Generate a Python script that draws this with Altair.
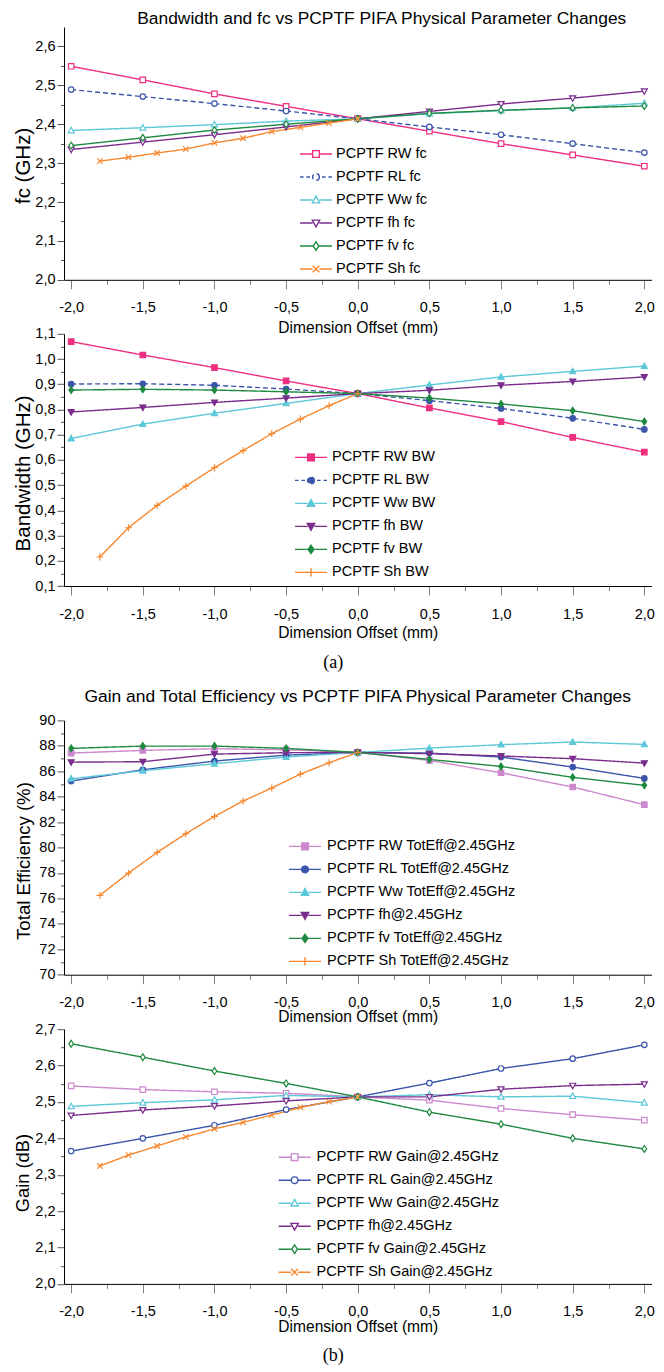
import altair as alt
import pandas as pd

# ---------------- data ----------------
offsets = [-2.0, -1.5, -1.0, -0.5, 0.0, 0.5, 1.0, 1.5, 2.0]
offsets_sh = [-1.8, -1.6, -1.4, -1.2, -1.0, -0.8, -0.6, -0.4, -0.2, 0.0]

fc_names = ["PCPTF RW fc", "PCPTF RL fc", "PCPTF Ww fc", "PCPTF fh fc", "PCPTF fv fc", "PCPTF Sh fc"]
fc_rw = [2.549, 2.514, 2.478, 2.446, 2.414, 2.382, 2.350, 2.321, 2.292]
fc_rl = [2.489, 2.471, 2.453, 2.434, 2.414, 2.393, 2.373, 2.350, 2.327]
fc_ww = [2.384, 2.391, 2.399, 2.408, 2.414, 2.427, 2.435, 2.442, 2.454]
fc_fh = [2.335, 2.354, 2.373, 2.393, 2.414, 2.433, 2.452, 2.467, 2.485]
fc_fv = [2.345, 2.365, 2.385, 2.400, 2.414, 2.428, 2.436, 2.442, 2.447]
fc_sh = [2.305, 2.315, 2.326, 2.336, 2.352, 2.364, 2.381, 2.392, 2.403, 2.414]

bw_names = ["PCPTF RW BW", "PCPTF RL BW", "PCPTF Ww BW", "PCPTF fh BW", "PCPTF fv BW", "PCPTF Sh BW"]
bw_rw = [1.069, 1.016, 0.966, 0.913, 0.863, 0.806, 0.752, 0.689, 0.631]
bw_rl = [0.901, 0.902, 0.896, 0.881, 0.863, 0.835, 0.804, 0.765, 0.721]
bw_ww = [0.685, 0.742, 0.785, 0.824, 0.863, 0.897, 0.929, 0.951, 0.972]
bw_fh = [0.790, 0.808, 0.828, 0.845, 0.863, 0.876, 0.896, 0.911, 0.929]
bw_fv = [0.877, 0.880, 0.877, 0.870, 0.863, 0.845, 0.822, 0.795, 0.752]
bw_sh = [0.215, 0.331, 0.420, 0.496, 0.569, 0.637, 0.704, 0.762, 0.815, 0.863]

eff_names = ["PCPTF RW TotEff@2.45GHz", "PCPTF RL TotEff@2.45GHz", "PCPTF Ww TotEff@2.45GHz",
             "PCPTF fh@2.45GHz", "PCPTF fv TotEff@2.45GHz", "PCPTF Sh TotEff@2.45GHz"]
eff_rw = [87.43, 87.64, 87.77, 87.69, 87.48, 86.85, 85.88, 84.76, 83.37]
eff_rl = [85.23, 86.12, 86.80, 87.27, 87.48, 87.43, 87.12, 86.33, 85.44]
eff_ww = [85.41, 86.04, 86.59, 87.12, 87.48, 87.82, 88.09, 88.30, 88.11]
eff_fh = [86.72, 86.75, 87.35, 87.46, 87.48, 87.38, 87.20, 86.99, 86.64]
eff_fv = [87.80, 87.98, 87.98, 87.80, 87.48, 86.93, 86.38, 85.52, 84.89]
eff_sh = [76.24, 77.99, 79.62, 81.09, 82.45, 83.66, 84.68, 85.78, 86.67, 87.48]

gain_names = ["PCPTF RW Gain@2.45GHz", "PCPTF RL Gain@2.45GHz", "PCPTF Ww Gain@2.45GHz",
              "PCPTF fh@2.45GHz", "PCPTF fv Gain@2.45GHz", "PCPTF Sh Gain@2.45GHz"]
gain_rw = [2.544, 2.534, 2.528, 2.524, 2.514, 2.505, 2.482, 2.465, 2.450]
gain_rl = [2.365, 2.400, 2.436, 2.479, 2.514, 2.552, 2.592, 2.619, 2.657]
gain_ww = [2.488, 2.498, 2.506, 2.518, 2.514, 2.520, 2.514, 2.516, 2.498]
gain_fh = [2.463, 2.478, 2.489, 2.503, 2.514, 2.514, 2.535, 2.545, 2.549]
gain_fv = [2.660, 2.623, 2.585, 2.551, 2.514, 2.472, 2.439, 2.400, 2.371]
gain_sh = [2.324, 2.354, 2.379, 2.404, 2.426, 2.444, 2.464, 2.485, 2.501, 2.514]

# tick values
x_ticks = [-2.0, -1.5, -1.0, -0.5, 0.0, 0.5, 1.0, 1.5, 2.0]
x_minor = [-1.75, -1.25, -0.75, -0.25, 0.25, 0.75, 1.25, 1.75]
fc_ticks = [2.0, 2.1, 2.2, 2.3, 2.4, 2.5, 2.6]
fc_minor = [2.05, 2.15, 2.25, 2.35, 2.45, 2.55]
bw_ticks = [0.1, 0.2, 0.3, 0.4, 0.5, 0.6, 0.7, 0.8, 0.9, 1.0, 1.1]
bw_minor = [0.15, 0.25, 0.35, 0.45, 0.55, 0.65, 0.75, 0.85, 0.95, 1.05]
eff_ticks = [70, 72, 74, 76, 78, 80, 82, 84, 86, 88, 90]
eff_minor = [71, 73, 75, 77, 79, 81, 83, 85, 87, 89]
gain_ticks = [2.0, 2.1, 2.2, 2.3, 2.4, 2.5, 2.6, 2.7]
gain_minor = [2.05, 2.15, 2.25, 2.35, 2.45, 2.55, 2.65]

# ---------------- styles ----------------
FONT = "Liberation Sans, Arial, sans-serif"
SERIF = "Liberation Serif, Times New Roman, serif"
colors_a = ["#EE2F80", "#3A55AA", "#5CC8D8", "#7B2D8E", "#1F8A40", "#F7882F"]
colors_b = ["#CC88CC", "#3A55AA", "#5CC8D8", "#7B2D8E", "#1F8A40", "#F7882F"]
PLOT_W = 587.5
X_DOMAIN = [-2.05, 2.05]


def f(v):
    return f"{v:.3g}"


def m_square(s):
    return f"M{f(-s)},{f(-s)}H{f(s)}V{f(s)}H{f(-s)}Z"


def m_circle(s):
    return f"M{f(s)},0A{f(s)},{f(s)},0,1,1,{f(-s)},0A{f(s)},{f(s)},0,1,1,{f(s)},0Z"


def m_tri_up(s):
    return f"M0,{f(-1.15*s)}L{f(1.1*s)},{f(0.85*s)}H{f(-1.1*s)}Z"


def m_tri_down(s):
    return f"M0,{f(1.15*s)}L{f(1.1*s)},{f(-0.85*s)}H{f(-1.1*s)}Z"


def m_diamond(s):
    return f"M0,{f(-1.25*s)}L{f(0.85*s)},0L0,{f(1.25*s)}L{f(-0.85*s)},0Z"


def m_x(s):
    return f"M{f(-s)},{f(-s)}L{f(s)},{f(s)}M{f(-s)},{f(s)}L{f(s)},{f(-s)}"


def m_plus(s):
    return f"M{f(-1.25*s)},0H{f(1.25*s)}M0,{f(-1.25*s)}V{f(1.25*s)}"


open_set = [m_square, m_circle, m_tri_up, m_tri_down, m_diamond, m_x]
filled_set = [m_square, m_circle, m_tri_up, m_tri_down, m_diamond, m_plus]

LEG_S = 0.42
SOLID_LINE = f"M-2,0H{f(-LEG_S)}M{f(LEG_S)},0H2"
DASH_LINE = "M-2,0H-1.55M-1.2,0H-0.75M0.75,0H1.2M1.55,0H2"


def legend_paths(markers, dashed_idx):
    out = []
    for i, m in enumerate(markers):
        line = DASH_LINE if i in dashed_idx else SOLID_LINE
        out.append(line + m(LEG_S))
    return out


def make_df(names, ylists, markers):
    rows = []
    for i, (name, ys) in enumerate(zip(names, ylists)):
        xs = offsets_sh if i == 5 else offsets
        for x, y in zip(xs, ys):
            rows.append({"x": x, "y": y, "series": name, "mk": markers[i](1)})
    return pd.DataFrame(rows)


XLABEL = "(datum.value < 0 ? '-' : '') + replace(format(abs(datum.value), '.1f'), '.', ',')"


def panel(names, ylists, colors, filled, dashed_idx, ydomain, yticks, yminor, ydec,
          ytitle, ytitle_size, height, ytitle_shift, xtitle_y, leg_x, leg_y, leg_off,
          title=None):
    markers = filled_set if filled else open_set
    df = make_df(names, ylists, markers)
    xs = alt.Scale(domain=X_DOMAIN, nice=False, zero=False)
    ys = alt.Scale(domain=ydomain, nice=False, zero=False)
    col = alt.Scale(domain=names, range=colors)
    dashes = [[5, 3] if i in dashed_idx else [1, 0] for i in range(6)]
    if ydec:
        ylabel = f"replace(format(datum.value, '.{ydec}f'), '.', ',')"
    else:
        ylabel = "format(datum.value, 'd')"
    base = alt.Chart(df)

    # legend-carrying layer (invisible marks, minor ticks) -- first so its legend wins merging
    leg = alt.Legend(orient="none", legendX=leg_x, legendY=leg_y, direction="vertical",
                     title=None, labelFont=FONT, labelFontSize=14.5, labelColor="black",
                     labelLimit=400, labelOffset=leg_off, symbolSize=256, symbolStrokeWidth=1.4,
                     symbolOpacity=1, rowPadding=7, padding=0)
    lshape = alt.Scale(domain=names, range=legend_paths(markers, dashed_idx))
    leg_enc = dict(
        x=alt.X("x:Q", scale=xs, axis=alt.Axis(
            orient="bottom",
            values=x_minor, labels=False, domain=False, tickSize=4.5, tickColor="#808080",
            title=None, grid=False)),
        y=alt.Y("y:Q", scale=ys, axis=alt.Axis(
            orient="left",
            values=yminor, labels=False, domain=False, tickSize=3.5, tickColor="#555555",
            title=None, grid=False)),
        shape=alt.Shape("series:N", scale=lshape, legend=leg),
        stroke=alt.Stroke("series:N", scale=col, legend=leg),
    )
    if filled:
        leg_enc["fill"] = alt.Fill("series:N", scale=col, legend=leg)
    else:
        leg_enc["fill"] = alt.value("white")
    legl = base.mark_point(size=30, opacity=0).encode(**leg_enc)

    lines = base.mark_line(strokeWidth=1.4).encode(
        x=alt.X("x:Q", scale=xs, axis=alt.Axis(
            orient="bottom",
            values=x_ticks, labelExpr=XLABEL, tickSize=9, tickColor="#808080", tickWidth=1,
            domainColor="black", domainWidth=1, labelPadding=12, labelFont=FONT,
            labelFontSize=14.5, labelColor="black", title="Dimension Offset (mm)",
            titleFont=FONT, titleFontSize=15.6, titleFontWeight="normal", titleColor="black",
            titleY=xtitle_y, titleBaseline="top", grid=False)),
        y=alt.Y("y:Q", scale=ys, axis=alt.Axis(
            orient="left",
            values=yticks, labelExpr=ylabel, tickSize=7, tickColor="#555555", tickWidth=1,
            domainColor="black", domainWidth=1, labelPadding=2, labelFont=FONT,
            labelFontSize=14.5, labelColor="black", title=ytitle, titleFont=FONT,
            titleFontSize=ytitle_size, titleFontWeight="normal", titleColor="black",
            titleX=-41, titleY=height / 2 + ytitle_shift, titleAngle=270,
            titleAlign="center", titleBaseline="middle", grid=False)),
        stroke=alt.Stroke("series:N", scale=col, legend=None),
        strokeDash=alt.StrokeDash("series:N", scale=alt.Scale(domain=names, range=dashes), legend=None),
    )

    pts_enc = dict(
        x=alt.X("x:Q", scale=xs, axis=None),
        y=alt.Y("y:Q", scale=ys, axis=None),
        shape=alt.Shape("mk:N", scale=None, legend=None),
        stroke=alt.Stroke("series:N", scale=col, legend=None),
    )
    if filled:
        pts_enc["fill"] = alt.Fill("series:N", scale=col, legend=None)
    else:
        pts_enc["fill"] = alt.value("white")
    pts = base.mark_point(size=30, strokeWidth=1.2, opacity=1).encode(**pts_enc)

    ch = alt.layer(legl, lines, pts).resolve_axis(x="independent", y="independent")
    props = dict(width=PLOT_W, height=height)
    if title is not None:
        props["title"] = title
    return ch.properties(**props)


p1 = panel(fc_names, [fc_rw, fc_rl, fc_ww, fc_fh, fc_fv, fc_sh], colors_a, False, [1],
           [2.0, 2.65], fc_ticks, fc_minor, 1, "fc (GHz)", 20.5, 252.8, 12, 40.5,
           243, 118, 11,
           title=alt.TitleParams("Bandwidth and fc vs PCPTF PIFA Physical Parameter Changes",
                                 font=FONT, fontSize=17.4, fontWeight="normal", color="black",
                                 anchor="middle", dx=24, offset=-0.5))
p2 = panel(bw_names, [bw_rw, bw_rl, bw_ww, bw_fh, bw_fv, bw_sh], colors_a, True, [1],
           [0.1, 1.1], bw_ticks, bw_minor, 1, "Bandwidth (GHz)", 20.5, 252.2, 13, 39.5,
           238, 114.6, 12,
           title=alt.TitleParams("(a)", orient="bottom", font=SERIF, fontSize=18,
                                 fontWeight="normal", color="black", anchor="middle",
                                 dx=-24.5, offset=13))
p3 = panel(eff_names, [eff_rw, eff_rl, eff_ww, eff_fh, eff_fv, eff_sh], colors_b, True, [],
           [70, 90], eff_ticks, eff_minor, 0, "Total Efficiency (%)", 18.6, 254.3, 13, 35,
           232, 117, 13,
           title=alt.TitleParams("Gain and Total Efficiency vs PCPTF PIFA Physical Parameter Changes",
                                 font=FONT, fontSize=17.4, fontWeight="normal", color="black",
                                 anchor="middle", dx=0, offset=7.5))
p4 = panel(gain_names, [gain_rw, gain_rl, gain_ww, gain_fh, gain_fv, gain_sh], colors_b, False, [],
           [2.0, 2.7], gain_ticks, gain_minor, 1, "Gain (dB)", 18.3, 254.7, 16, 35.5,
           221.6, 119, 13,
           title=alt.TitleParams("(b)", orient="bottom", font=SERIF, fontSize=18,
                                 fontWeight="normal", color="black", anchor="middle",
                                 dx=-24.5, offset=12))

spacer = alt.Chart(pd.DataFrame({"v": [0]})).mark_point(opacity=0).properties(width=PLOT_W, height=25.7)

chart = alt.vconcat(p1, p2, spacer, p3, p4, spacing=53.8, bounds="flush").resolve_scale(
    stroke="independent", fill="independent", shape="independent", strokeDash="independent"
).properties(
    padding={"left": 5, "top": 2, "right": 0, "bottom": 0}
).configure_view(strokeWidth=0)

chart.save("out.html", embed_options={"renderer": "svg", "actions": False})
